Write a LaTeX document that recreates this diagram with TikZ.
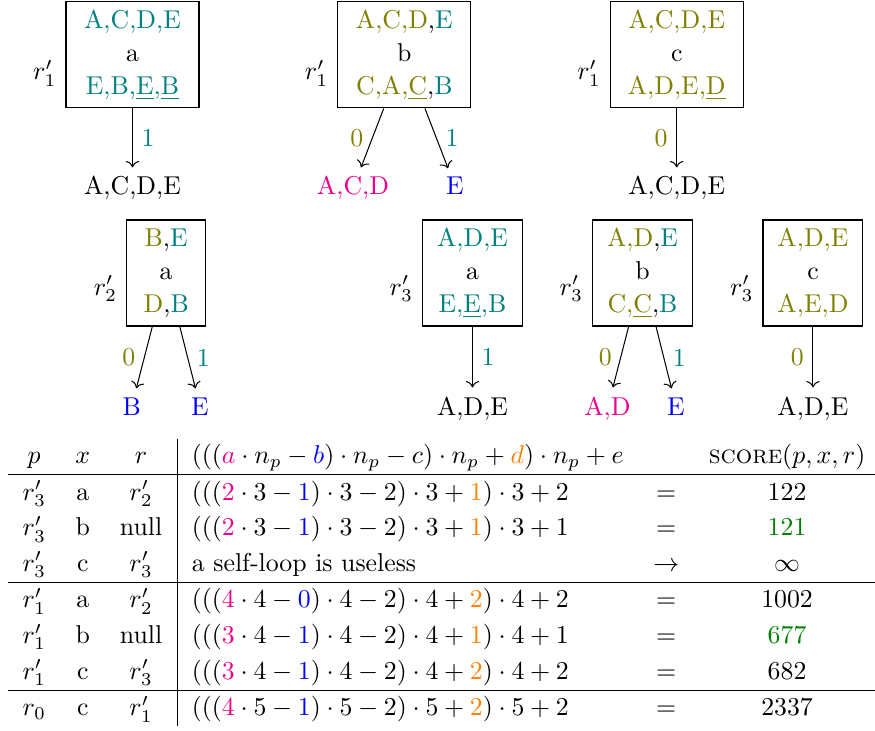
\documentclass[tikz,border=0pt]{standalone}
\usepackage{amsmath,amssymb}
\usepackage{xcolor}
\usepackage{tikz}
\usetikzlibrary{arrows.meta,positioning,calc}
\definecolor{vtteal}{HTML}{008080}
\definecolor{vtolive}{HTML}{808000}
\definecolor{vtpink}{HTML}{EC008C}
\definecolor{vtblue}{HTML}{0000FF}
\definecolor{vtorange}{HTML}{FF8000}
\definecolor{vtgreen}{HTML}{008000}
\newcommand{\tcol}[1]{\textcolor{vtteal}{#1}}
\newcommand{\ocol}[1]{\textcolor{vtolive}{#1}}
\newcommand{\mcol}[1]{\textcolor{vtpink}{#1}}
\newcommand{\bcol}[1]{\textcolor{vtblue}{#1}}
\newcommand{\dcol}[1]{\textcolor{vtorange}{#1}}
\newcommand{\gcol}[1]{\textcolor{vtgreen}{#1}}
\renewcommand{\arraystretch}{1.15}
\setlength{\tabcolsep}{5.75pt}

\begin{document}
\begin{tikzpicture}[
      state/.style={draw,align=center,minimum height=14.44mm,inner sep=2pt,
        font=\linespread{1.06}\selectfont},
      wide/.style={minimum width=18.12mm},
      narrow/.style={minimum width=13.62mm},
      leaf/.style={anchor=base},
      rname/.style={anchor=base east},
      edge/.style={->}
    ]
    \useasboundingbox (0,0) rectangle (11.92,-9.958);

    % children of r'_1
    \node[state,wide] (p1a) at (1.805,-0.749)
      {\tcol{A,C,D,E}\\a\\\tcol{E,B,\underline{E},\underline{B}}};
    \node[state,wide] (p1b) at (5.508,-0.749)
      {\ocol{A,C,D},\tcol{E}\\b\\\ocol{C,A,\underline{C}},\tcol{B}};
    \node[state,wide] (p1c) at (9.219,-0.749)
      {\ocol{A,C,D,E}\\c\\\ocol{A,D,E,\underline{D}}};
    \foreach \p in {p1a,p1b,p1c}{
      \node[rname] (n\p) at ([yshift=-3.4mm]\p.west) {$r'_1$};
    }
    \node[leaf] (c1a) at (1.805,-2.656) {A,C,D,E};
    \node[leaf,text=vtpink] (c1b0) at (4.809,-2.656) {A,C,D};
    \node[leaf,text=vtblue] (c1b1) at (6.198,-2.656) {E};
    \node[leaf] (c1c) at (9.219,-2.656) {A,C,D,E};
    \draw[edge] (p1a) -- node[right,text=vtteal] (e1a) {1} (c1a);
    \draw[edge] (p1b) -- node[left,text=vtolive] (e1b0) {0} (c1b0);
    \draw[edge] (p1b) -- node[right,text=vtteal] (e1b1) {1} (c1b1);
    \draw[edge] (p1c) -- node[left,text=vtolive] (e1c) {0} (c1c);

    % children of r'_2 and r'_3
    \node[state,minimum width=10.76mm] (p2a) at (2.264,-3.719)
      {\ocol{B},\tcol{E}\\a\\\ocol{D},\tcol{B}};
    \node[rname] (np2a) at ([yshift=-3.0mm]p2a.west) {$r'_2$};
    \node[state,narrow] (p3a) at (6.437,-3.719)
      {\tcol{A,D,E}\\a\\\tcol{E,\underline{E},B}};
    \node[state,narrow] (p3b) at (8.753,-3.719)
      {\ocol{A,D},\tcol{E}\\b\\\ocol{C,\underline{C}},\tcol{B}};
    \node[state,narrow] (p3c) at (11.075,-3.719)
      {\ocol{A,D,E}\\c\\\ocol{A,E,D}};
    \foreach \p in {p3a,p3b,p3c}{
      \node[rname] (n\p) at ([yshift=-3.0mm]\p.west) {$r'_3$};
    }
    \node[leaf,text=vtblue] (c2a0) at (1.794,-5.654) {B};
    \node[leaf,text=vtblue] (c2a1) at (2.725,-5.654) {E};
    \node[leaf] (c3a) at (6.437,-5.654) {A,D,E};
    \node[leaf,text=vtpink] (c3b0) at (8.276,-5.654) {A,D};
    \node[leaf,text=vtblue] (c3b1) at (9.209,-5.654) {E};
    \node[leaf] (c3c) at (11.075,-5.654) {A,D,E};
    \draw[edge] (p2a) -- node[left,text=vtolive] (e2a0) {0} (c2a0);
    \draw[edge] (p2a) -- node[right,text=vtteal] (e2a1) {1} (c2a1);
    \draw[edge] (p3a) -- node[right,text=vtteal] (e3a) {1} (c3a);
    \draw[edge] (p3b) -- node[left,text=vtolive] (e3b0) {0} (c3b0);
    \draw[edge] (p3b) -- node[right,text=vtteal] (e3b1) {1} (c3b1);
    \draw[edge] (p3c) -- node[left,text=vtolive] (e3c) {0} (c3c);

    % score table
    \node[anchor=north west,inner sep=0pt] (scores) at (0.099,-5.967) {%
      \begin{tabular}{ccc|lcc@{\hspace{4.5pt}}}
        $p$ & $x$ & $r$ & $(((\mcol{a}\cdot n_p-\bcol{b})\cdot n_p-c)\cdot n_p+\dcol{d})\cdot n_p+e$ & & \textsc{score}$(p,x,r)$ \\ \hline
        $r'_3$ & a & $r'_2$ & $(((\mcol{2}\cdot 3-\bcol{1})\cdot 3-2)\cdot 3+\dcol{1})\cdot 3+2$ & $=$ & 122 \\
        $r'_3$ & b & null & $(((\mcol{2}\cdot 3-\bcol{1})\cdot 3-2)\cdot 3+\dcol{1})\cdot 3+1$ & $=$ & \gcol{121} \\
        $r'_3$ & c & $r'_3$ & a self-loop is useless & $\to$ & $\infty$ \\ \hline
        $r'_1$ & a & $r'_2$ & $(((\mcol{4}\cdot 4-\bcol{0})\cdot 4-2)\cdot 4+\dcol{2})\cdot 4+2$ & $=$ & 1002 \\
        $r'_1$ & b & null & $(((\mcol{3}\cdot 4-\bcol{1})\cdot 4-2)\cdot 4+\dcol{1})\cdot 4+1$ & $=$ & \gcol{677} \\
        $r'_1$ & c & $r'_3$ & $(((\mcol{3}\cdot 4-\bcol{1})\cdot 4-2)\cdot 4+\dcol{2})\cdot 4+2$ & $=$ & 682 \\ \hline
        $r_0$ & c & $r'_1$ & $(((\mcol{4}\cdot 5-\bcol{1})\cdot 5-2)\cdot 5+\dcol{2})\cdot 5+2$ & $=$ & 2337
      \end{tabular}};
  \end{tikzpicture}
\end{document}
